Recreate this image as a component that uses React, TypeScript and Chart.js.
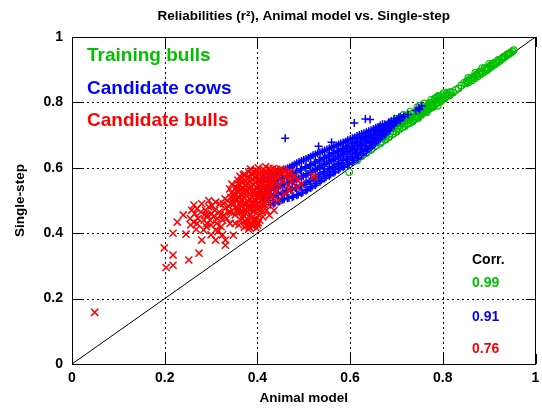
import React, { useEffect, useRef } from "react";
import { Chart, registerables } from "chart.js";

Chart.register(...registerables);

const titleText = "Reliabilities (r\u00B2), Animal model vs. Single-step";
const xTitle = "Animal model";
const yTitle = "Single-step";
const seriesNames = ["Training bulls", "Candidate cows", "Candidate bulls"];
const seriesColors = ["#00c000", "#0000ff", "#ff0000"];
const corrTitle = "Corr.";
const corrLabels = ["0.99", "0.91", "0.76"];
const tickValues = [0, 0.2, 0.4, 0.6, 0.8, 1];
const tickLabels = ["0", "0.2", "0.4", "0.6", "0.8", "1"];
const diagonal = [[0, 0], [1, 1]];

const trainingBulls: number[][] = [
  [0.598, 0.587], [0.615, 0.622], [0.625, 0.636], [0.635, 0.645], [0.645, 0.655], [0.655, 0.668], [0.66, 0.69], [0.665, 0.675],
  [0.668, 0.68], [0.672, 0.695], [0.676, 0.686], [0.68, 0.71], [0.684, 0.694], [0.688, 0.72], [0.692, 0.703], [0.696, 0.73],
  [0.7, 0.71], [0.703, 0.74], [0.706, 0.718], [0.709, 0.75], [0.712, 0.724], [0.715, 0.74], [0.718, 0.727], [0.721, 0.758],
  [0.724, 0.735], [0.727, 0.75], [0.73, 0.738], [0.733, 0.765], [0.736, 0.746], [0.739, 0.758], [0.742, 0.75], [0.745, 0.772],
  [0.748, 0.758], [0.751, 0.768], [0.754, 0.762], [0.757, 0.782], [0.76, 0.77], [0.763, 0.78], [0.766, 0.774], [0.769, 0.792],
  [0.772, 0.782], [0.775, 0.79], [0.778, 0.786], [0.781, 0.805], [0.784, 0.794], [0.787, 0.815], [0.79, 0.8], [0.793, 0.81],
  [0.796, 0.804], [0.8, 0.822], [0.804, 0.812], [0.808, 0.826], [0.812, 0.82], [0.817, 0.832], [0.822, 0.83], [0.828, 0.838],
  [0.834, 0.843], [0.685, 0.735], [0.7, 0.75], [0.715, 0.762], [0.73, 0.772], [0.745, 0.785], [0.76, 0.797], [0.775, 0.808],
  [0.79, 0.82], [0.72, 0.745], [0.735, 0.755], [0.75, 0.777], [0.765, 0.787], [0.78, 0.797], [0.795, 0.815],
  [0.67, 0.69], [0.674, 0.706], [0.678, 0.697], [0.682, 0.722], [0.686, 0.705], [0.69, 0.728], [0.694, 0.712], [0.698, 0.738],
  [0.702, 0.722], [0.705, 0.73], [0.708, 0.74], [0.711, 0.735], [0.714, 0.752], [0.717, 0.735], [0.72, 0.75], [0.723, 0.745],
  [0.726, 0.762], [0.729, 0.748], [0.732, 0.755], [0.735, 0.742], [0.738, 0.768], [0.741, 0.758], [0.744, 0.762], [0.747, 0.752],
  [0.75, 0.789], [0.753, 0.775], [0.756, 0.768], [0.759, 0.785], [0.762, 0.776], [0.765, 0.77], [0.768, 0.782], [0.771, 0.798],
  [0.774, 0.784], [0.777, 0.8], [0.78, 0.788], [0.783, 0.812], [0.786, 0.8], [0.789, 0.79], [0.792, 0.818], [0.795, 0.806],
  [0.798, 0.81], [0.802, 0.828], [0.806, 0.82], [0.81, 0.83], [0.815, 0.822],
  [0.84, 0.852], [0.846, 0.86], [0.85, 0.858], [0.853, 0.866], [0.856, 0.862], [0.86, 0.872], [0.863, 0.868], [0.866, 0.878],
  [0.869, 0.874], [0.872, 0.884], [0.875, 0.879], [0.878, 0.89], [0.881, 0.886], [0.884, 0.894], [0.887, 0.891], [0.89, 0.9],
  [0.893, 0.897], [0.896, 0.906], [0.899, 0.903], [0.902, 0.912], [0.905, 0.909], [0.908, 0.917], [0.911, 0.915], [0.914, 0.922],
  [0.917, 0.921], [0.92, 0.928], [0.923, 0.927], [0.926, 0.933], [0.929, 0.934], [0.932, 0.94], [0.935, 0.94], [0.938, 0.945],
  [0.942, 0.948], [0.946, 0.951], [0.95, 0.956], [0.953, 0.96], [0.855, 0.875], [0.87, 0.89], [0.885, 0.905], [0.9, 0.918],
  [0.858, 0.87], [0.864, 0.874], [0.874, 0.885], [0.88, 0.895], [0.89, 0.905], [0.895, 0.9], [0.905, 0.915], [0.91, 0.92],
  [0.92, 0.93], [0.93, 0.937], [0.94, 0.947], [0.944, 0.95],
];

const candidateCows: number[][] = [
  [0.398, 0.505], [0.404, 0.525], [0.41, 0.545], [0.406, 0.56], [0.414, 0.51],
  [0.418, 0.495], [0.422, 0.516], [0.419, 0.536], [0.423, 0.556], [0.421, 0.572],
  [0.428, 0.488], [0.432, 0.51], [0.429, 0.531], [0.433, 0.552], [0.43, 0.576],
  [0.438, 0.493], [0.442, 0.517], [0.439, 0.54], [0.443, 0.561], [0.44, 0.582],
  [0.448, 0.498], [0.452, 0.521], [0.449, 0.545], [0.453, 0.567], [0.45, 0.588],
  [0.458, 0.505], [0.462, 0.528], [0.459, 0.55], [0.463, 0.573], [0.46, 0.595],
  [0.468, 0.508], [0.472, 0.533], [0.469, 0.556], [0.473, 0.58], [0.47, 0.602],
  [0.478, 0.513], [0.482, 0.538], [0.479, 0.562], [0.483, 0.586], [0.48, 0.61],
  [0.488, 0.518], [0.492, 0.543], [0.489, 0.568], [0.493, 0.593], [0.49, 0.618],
  [0.498, 0.525], [0.502, 0.55], [0.499, 0.575], [0.503, 0.6], [0.5, 0.624],
  [0.508, 0.534], [0.512, 0.558], [0.509, 0.582], [0.513, 0.606], [0.51, 0.63],
  [0.518, 0.542], [0.522, 0.566], [0.519, 0.59], [0.523, 0.614], [0.52, 0.638],
  [0.528, 0.552], [0.532, 0.575], [0.529, 0.598], [0.533, 0.621], [0.53, 0.644],
  [0.538, 0.562], [0.542, 0.584], [0.539, 0.606], [0.543, 0.628], [0.54, 0.65],
  [0.548, 0.572], [0.552, 0.593], [0.549, 0.614], [0.553, 0.635], [0.55, 0.656],
  [0.558, 0.58], [0.562, 0.601], [0.559, 0.622], [0.563, 0.643], [0.56, 0.662],
  [0.568, 0.589], [0.572, 0.609], [0.569, 0.629], [0.573, 0.649], [0.57, 0.668],
  [0.578, 0.598], [0.582, 0.617], [0.579, 0.636], [0.583, 0.655], [0.58, 0.674],
  [0.588, 0.605], [0.592, 0.626], [0.589, 0.645], [0.593, 0.663], [0.59, 0.68],
  [0.598, 0.612], [0.602, 0.634], [0.599, 0.652], [0.603, 0.67], [0.6, 0.687],
  [0.608, 0.622], [0.612, 0.643], [0.609, 0.66], [0.613, 0.677], [0.61, 0.693],
  [0.618, 0.632], [0.622, 0.651], [0.619, 0.668], [0.623, 0.685], [0.62, 0.7],
  [0.628, 0.643], [0.632, 0.66], [0.629, 0.676], [0.633, 0.692], [0.63, 0.706],
  [0.638, 0.655], [0.642, 0.669], [0.639, 0.684], [0.643, 0.699], [0.64, 0.712],
  [0.648, 0.667], [0.652, 0.68], [0.649, 0.693], [0.653, 0.706], [0.65, 0.718],
  [0.658, 0.68], [0.662, 0.692], [0.659, 0.703], [0.663, 0.715], [0.66, 0.725],
  [0.668, 0.694], [0.672, 0.705], [0.669, 0.716], [0.673, 0.725], [0.67, 0.733],
  [0.678, 0.708], [0.682, 0.72], [0.679, 0.73], [0.683, 0.739],
  [0.688, 0.722], [0.692, 0.733], [0.689, 0.743],
  [0.698, 0.737], [0.702, 0.747], [0.705, 0.754],
  [0.712, 0.752], [0.716, 0.758],
  [0.415, 0.505], [0.415, 0.526], [0.415, 0.546], [0.415, 0.564],
  [0.425, 0.5], [0.425, 0.521], [0.425, 0.542], [0.425, 0.563], [0.425, 0.58],
  [0.435, 0.49], [0.435, 0.514], [0.435, 0.536], [0.435, 0.557], [0.435, 0.579],
  [0.445, 0.496], [0.445, 0.519], [0.445, 0.543], [0.445, 0.564], [0.445, 0.585],
  [0.455, 0.502], [0.455, 0.525], [0.455, 0.548], [0.455, 0.57], [0.455, 0.592],
  [0.465, 0.507], [0.465, 0.531], [0.465, 0.553], [0.465, 0.577], [0.465, 0.599],
  [0.475, 0.51], [0.475, 0.536], [0.475, 0.559], [0.475, 0.583], [0.475, 0.606],
  [0.485, 0.516], [0.485, 0.54], [0.485, 0.565], [0.485, 0.59], [0.485, 0.614],
  [0.495, 0.522], [0.495, 0.547], [0.495, 0.572], [0.495, 0.597], [0.495, 0.621],
  [0.505, 0.53], [0.505, 0.554], [0.505, 0.578], [0.505, 0.603], [0.505, 0.627],
  [0.515, 0.538], [0.515, 0.562], [0.515, 0.586], [0.515, 0.61], [0.515, 0.634],
  [0.525, 0.547], [0.525, 0.57], [0.525, 0.594], [0.525, 0.618], [0.525, 0.641],
  [0.535, 0.557], [0.535, 0.58], [0.535, 0.602], [0.535, 0.625], [0.535, 0.647],
  [0.545, 0.567], [0.545, 0.588], [0.545, 0.61], [0.545, 0.632], [0.545, 0.653],
  [0.555, 0.576], [0.555, 0.597], [0.555, 0.618], [0.555, 0.639], [0.555, 0.659],
  [0.565, 0.585], [0.565, 0.605], [0.565, 0.626], [0.565, 0.646], [0.565, 0.665],
  [0.575, 0.594], [0.575, 0.613], [0.575, 0.633], [0.575, 0.652], [0.575, 0.671],
  [0.585, 0.602], [0.585, 0.622], [0.585, 0.641], [0.585, 0.659], [0.585, 0.677],
  [0.595, 0.609], [0.595, 0.63], [0.595, 0.649], [0.595, 0.667], [0.595, 0.684],
  [0.605, 0.617], [0.605, 0.639], [0.605, 0.656], [0.605, 0.674], [0.605, 0.69],
  [0.615, 0.627], [0.615, 0.647], [0.615, 0.664], [0.615, 0.681], [0.615, 0.697],
  [0.625, 0.638], [0.625, 0.656], [0.625, 0.672], [0.625, 0.689], [0.625, 0.703],
  [0.635, 0.649], [0.635, 0.665], [0.635, 0.68], [0.635, 0.696], [0.635, 0.709],
  [0.645, 0.661], [0.645, 0.675], [0.645, 0.689], [0.645, 0.703], [0.645, 0.715],
  [0.655, 0.674], [0.655, 0.686], [0.655, 0.698], [0.655, 0.711], [0.655, 0.722],
  [0.665, 0.687], [0.665, 0.699], [0.665, 0.71], [0.665, 0.72], [0.665, 0.729],
  [0.675, 0.701], [0.675, 0.713], [0.675, 0.723], [0.675, 0.733],
  [0.685, 0.715], [0.685, 0.727], [0.685, 0.738],
  [0.695, 0.73], [0.695, 0.741], [0.695, 0.75],
  [0.708, 0.745], [0.708, 0.755],
  [0.742, 0.775], [0.748, 0.783], [0.754, 0.789], [0.75, 0.778], [0.725, 0.763],
  [0.46, 0.69], [0.609, 0.737], [0.633, 0.749], [0.643, 0.748], [0.532, 0.666], [0.56, 0.678],
];

const candidateBulls: number[][] = [
  [0.049, 0.158],
  [0.199, 0.355], [0.218, 0.333], [0.218, 0.302], [0.203, 0.295], [0.252, 0.318], [0.274, 0.339], [0.218, 0.4],
  [0.246, 0.397], [0.263, 0.434], [0.27, 0.43], [0.28, 0.379], [0.3, 0.395], [0.31, 0.379], [0.284, 0.41], [0.31, 0.41],
  [0.291, 0.43], [0.314, 0.445], [0.32, 0.455], [0.295, 0.48], [0.288, 0.47], [0.301, 0.46], [0.308, 0.47], [0.331, 0.379],
  [0.331, 0.363], [0.348, 0.394], [0.341, 0.43], [0.334, 0.445], [0.344, 0.523], [0.338, 0.465], [0.344, 0.49],
  [0.24, 0.456], [0.227, 0.434], [0.286, 0.456], [0.263, 0.486], [0.295, 0.5], [0.322, 0.42], [0.327, 0.455], [0.318, 0.49],
  [0.33, 0.505], [0.325, 0.395],
  [0.265, 0.46], [0.272, 0.445], [0.278, 0.465], [0.285, 0.44], [0.292, 0.455], [0.298, 0.44], [0.305, 0.45], [0.312, 0.43],
  [0.318, 0.465], [0.325, 0.44], [0.33, 0.475], [0.335, 0.5], [0.326, 0.49], [0.31, 0.495], [0.302, 0.485], [0.28, 0.49],
  [0.27, 0.475], [0.255, 0.445], [0.258, 0.47], [0.29, 0.42], [0.3, 0.425], [0.315, 0.405], [0.268, 0.412], [0.256, 0.425],
  [0.372, 0.418], [0.381, 0.412], [0.39, 0.421], [0.398, 0.415], [0.376, 0.432], [0.385, 0.428], [0.394, 0.436], [0.368, 0.445],
  [0.379, 0.441], [0.388, 0.447], [0.397, 0.443], [0.402, 0.432],
  [0.377, 0.424], [0.393, 0.428], [0.383, 0.418], [0.373, 0.438], [0.391, 0.442], [0.4, 0.425],
  [0.352, 0.456], [0.361, 0.462], [0.37, 0.455], [0.378, 0.466], [0.386, 0.458], [0.394, 0.468], [0.403, 0.455], [0.41, 0.465],
  [0.357, 0.475], [0.366, 0.481], [0.374, 0.472], [0.383, 0.485], [0.391, 0.477], [0.399, 0.488], [0.407, 0.478], [0.415, 0.486],
  [0.348, 0.488],
  [0.356, 0.466], [0.365, 0.47], [0.374, 0.462], [0.382, 0.474], [0.39, 0.466], [0.398, 0.476], [0.406, 0.468], [0.361, 0.488],
  [0.37, 0.49], [0.379, 0.48], [0.387, 0.492], [0.395, 0.484], [0.403, 0.494], [0.411, 0.488], [0.352, 0.478],
  [0.346, 0.497], [0.355, 0.503], [0.363, 0.494], [0.371, 0.508], [0.38, 0.498], [0.388, 0.511], [0.396, 0.5], [0.405, 0.509],
  [0.413, 0.497], [0.42, 0.506], [0.351, 0.518], [0.359, 0.525], [0.368, 0.516], [0.377, 0.528], [0.385, 0.52], [0.393, 0.53],
  [0.401, 0.521], [0.409, 0.531], [0.417, 0.519], [0.425, 0.528],
  [0.35, 0.508], [0.359, 0.512], [0.367, 0.503], [0.375, 0.516], [0.384, 0.506], [0.392, 0.518], [0.4, 0.508], [0.408, 0.519],
  [0.416, 0.509], [0.424, 0.517], [0.355, 0.53], [0.364, 0.534], [0.372, 0.532], [0.381, 0.538], [0.389, 0.526], [0.397, 0.541],
  [0.405, 0.53], [0.413, 0.539], [0.421, 0.532], [0.429, 0.54],
  [0.354, 0.54], [0.362, 0.547], [0.37, 0.538], [0.379, 0.551], [0.387, 0.542], [0.395, 0.555], [0.403, 0.545], [0.411, 0.556],
  [0.419, 0.544], [0.427, 0.553], [0.435, 0.541], [0.358, 0.562], [0.366, 0.568], [0.375, 0.56], [0.383, 0.572], [0.391, 0.564],
  [0.399, 0.574], [0.407, 0.566], [0.415, 0.577], [0.423, 0.565], [0.431, 0.574], [0.439, 0.562],
  [0.358, 0.552], [0.366, 0.556], [0.375, 0.548], [0.383, 0.558], [0.391, 0.55], [0.399, 0.561], [0.407, 0.553], [0.415, 0.562],
  [0.423, 0.555], [0.431, 0.56], [0.362, 0.574], [0.37, 0.578], [0.379, 0.569], [0.387, 0.583], [0.395, 0.571], [0.403, 0.58],
  [0.411, 0.572], [0.419, 0.582], [0.427, 0.572], [0.435, 0.578], [0.443, 0.57],
  [0.372, 0.581], [0.381, 0.588], [0.389, 0.579], [0.397, 0.592], [0.405, 0.584], [0.413, 0.595], [0.421, 0.586], [0.429, 0.594],
  [0.437, 0.583], [0.445, 0.591], [0.453, 0.58], [0.46, 0.588], [0.468, 0.584], [0.402, 0.6], [0.418, 0.603], [0.434, 0.598],
  [0.45, 0.596],
  [0.385, 0.596], [0.393, 0.586], [0.401, 0.59], [0.409, 0.59], [0.417, 0.59], [0.425, 0.598], [0.433, 0.588], [0.441, 0.595],
  [0.449, 0.586], [0.457, 0.592], [0.464, 0.58],
  [0.376, 0.49], [0.392, 0.49], [0.384, 0.535], [0.4, 0.538], [0.37, 0.525], [0.386, 0.475], [0.402, 0.515], [0.36, 0.508],
  [0.41, 0.545], [0.395, 0.522],
  [0.342, 0.465], [0.338, 0.482], [0.343, 0.51], [0.34, 0.535], [0.345, 0.55], [0.352, 0.43], [0.36, 0.425], [0.364, 0.44],
  [0.405, 0.44], [0.412, 0.45], [0.42, 0.47], [0.428, 0.49], [0.432, 0.51], [0.44, 0.525], [0.447, 0.545], [0.455, 0.56],
  [0.462, 0.57], [0.426, 0.455], [0.436, 0.47],
  [0.466, 0.545], [0.474, 0.56], [0.48, 0.575], [0.487, 0.563], [0.494, 0.55], [0.472, 0.587], [0.52, 0.572], [0.523, 0.575],
  [0.47, 0.53], [0.485, 0.54], [0.458, 0.52], [0.445, 0.5],
];

const FONT = "'Liberation Sans', Arial, Helvetica, sans-serif";

const toXY = (arr: number[][]) => arr.map(([x, y]) => ({ x, y }));

const decorPlugin = {
  id: "decor",
  beforeDatasetsDraw(chart: any) {
    const { ctx, chartArea: a, scales } = chart;
    const xs = scales.x;
    const ys = scales.y;
    ctx.save();
    ctx.strokeStyle = "#000";
    ctx.lineWidth = 1;
    ctx.setLineDash([2, 3]);
    tickValues.slice(1, -1).forEach((v) => {
      const px = Math.round(xs.getPixelForValue(v)) + 0.5;
      ctx.beginPath();
      ctx.moveTo(px, a.top);
      ctx.lineTo(px, a.bottom);
      ctx.stroke();
      const py = Math.round(ys.getPixelForValue(v)) + 0.5;
      ctx.beginPath();
      ctx.moveTo(a.left, py);
      ctx.lineTo(a.right, py);
      ctx.stroke();
    });
    ctx.setLineDash([]);
    const tl = 10;
    tickValues.forEach((v) => {
      const px = Math.round(xs.getPixelForValue(v)) + 0.5;
      ctx.beginPath();
      ctx.moveTo(px, a.bottom);
      ctx.lineTo(px, a.bottom - tl);
      ctx.moveTo(px, a.top);
      ctx.lineTo(px, a.top + tl);
      ctx.stroke();
      const py = Math.round(ys.getPixelForValue(v)) + 0.5;
      ctx.beginPath();
      ctx.moveTo(a.left, py);
      ctx.lineTo(a.left + tl, py);
      ctx.moveTo(a.right, py);
      ctx.lineTo(a.right - tl, py);
      ctx.stroke();
    });
    ctx.strokeRect(Math.round(a.left) + 0.5, Math.round(a.top) + 0.5, Math.round(a.right - a.left) - 1, Math.round(a.bottom - a.top));
    ctx.restore();
  },
  afterDraw(chart: any) {
    const { ctx, chartArea: a } = chart;
    const cx = (a.left + a.right) / 2;
    const cy = (a.top + a.bottom) / 2;
    ctx.save();
    ctx.fillStyle = "#000";
    ctx.textAlign = "center";
    ctx.textBaseline = "middle";
    ctx.font = `bold 13.5px ${FONT}`;
    ctx.fillText(titleText, cx, 16);
    ctx.fillText(xTitle, cx, 398);
    ctx.save();
    ctx.translate(20, cy);
    ctx.rotate(-Math.PI / 2);
    ctx.fillText(yTitle, 0, 0);
    ctx.restore();

    ctx.textAlign = "left";
    ctx.textBaseline = "alphabetic";
    ctx.font = `bold 19px ${FONT}`;
    const legendBase = [61, 93.5, 125.5];
    seriesNames.forEach((n, i) => {
      ctx.fillStyle = seriesColors[i];
      ctx.fillText(n, 87, legendBase[i]);
    });

    ctx.font = `bold 14px ${FONT}`;
    ctx.fillStyle = "#000";
    ctx.fillText(corrTitle, 472, 264);
    const corrBase = [287, 321, 353];
    corrLabels.forEach((c, i) => {
      ctx.fillStyle = seriesColors[i];
      ctx.fillText(c, 472, corrBase[i]);
    });
    ctx.restore();
  },
};

export default function App() {
  const ref = useRef<HTMLCanvasElement | null>(null);
  useEffect(() => {
    if (!ref.current) return;
    const labelFor = (v: any) => {
      const i = tickValues.findIndex((t) => Math.abs(t - Number(v)) < 1e-6);
      return i >= 0 ? tickLabels[i] : "";
    };
    const chart = new Chart(ref.current, {
      type: "scatter",
      data: {
        datasets: [
          {
            label: "diag",
            data: toXY(diagonal),
            showLine: true,
            borderColor: "#000",
            borderWidth: 1,
            pointRadius: 0,
            order: 10,
          } as any,
          {
            label: seriesNames[0],
            data: toXY(trainingBulls),
            pointStyle: "circle",
            pointRadius: 3.3,
            borderColor: seriesColors[0],
            backgroundColor: "rgba(0,0,0,0)",
            borderWidth: 1.2,
            order: 3,
          },
          {
            label: seriesNames[1],
            data: toXY(candidateCows),
            pointStyle: "cross",
            pointRadius: 4,
            borderColor: seriesColors[1],
            backgroundColor: seriesColors[1],
            borderWidth: 1.5,
            order: 2,
          },
          {
            label: seriesNames[2],
            data: toXY(candidateBulls),
            pointStyle: "crossRot",
            pointRadius: 5,
            borderColor: seriesColors[2],
            backgroundColor: seriesColors[2],
            borderWidth: 1.5,
            order: 1,
          },
        ],
      },
      options: {
        responsive: false,
        animation: false,
        devicePixelRatio: 1,
        layout: { padding: { left: 8, top: 37, right: 2, bottom: 0 } },
        plugins: { legend: { display: false }, tooltip: { enabled: false }, title: { display: false } },
        scales: {
          x: {
            type: "linear",
            min: 0,
            max: 1,
            grid: { display: false, drawTicks: false },
            border: { display: false },
            ticks: {
              padding: 6,
              color: "#000",
              font: { family: FONT, size: 14, weight: "bold" },
              callback: labelFor,
            },
            afterBuildTicks: (s: any) => {
              s.ticks = tickValues.map((v) => ({ value: v }));
            },
            afterFit: (s: any) => {
              s.height = 44;
              s.paddingLeft = 0;
              s.paddingRight = 0;
            },
          },
          y: {
            type: "linear",
            min: 0,
            max: 1,
            grid: { display: false, drawTicks: false },
            border: { display: false },
            ticks: {
              padding: 9,
              color: "#000",
              font: { family: FONT, size: 14, weight: "bold" },
              callback: labelFor,
            },
            afterBuildTicks: (s: any) => {
              s.ticks = tickValues.map((v) => ({ value: v }));
            },
            afterFit: (s: any) => {
              s.width = 64;
              s.paddingTop = 0;
              s.paddingBottom = 0;
            },
          },
        },
      },
      plugins: [decorPlugin],
    } as any);
    return () => chart.destroy();
  }, []);
  return (
    <div style={{ position: "fixed", left: 0, top: 0, width: 542, height: 408, background: "#fff" }}>
      <canvas ref={ref} width={542} height={408} style={{ display: "block" }} />
    </div>
  );
}
